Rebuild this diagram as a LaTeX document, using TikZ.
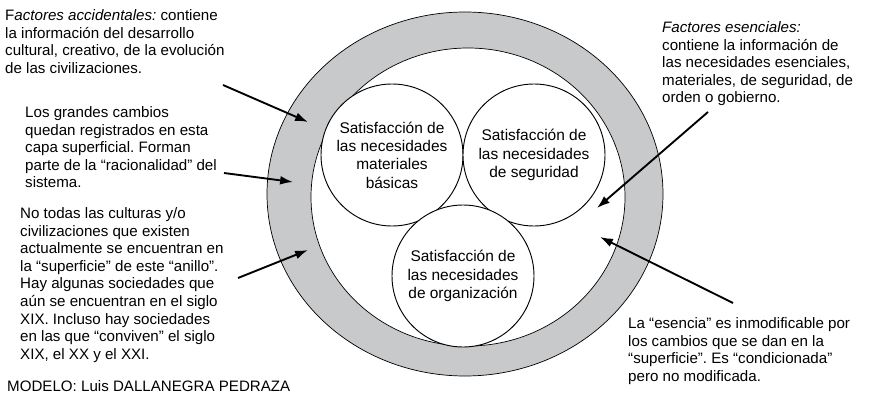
\documentclass[tikz,border=0pt]{standalone}
\usepackage{fontspec}
\setmainfont{Liberation Sans}
\usepackage{tikz}
\usetikzlibrary{arrows.meta}
\frenchspacing
\definecolor{ringgray}{HTML}{C8C9CB}
\tikzset{
  txt/.style={anchor=north west, inner sep=0pt, align=left, font=\fontsize{12.9}{15}\selectfont},
  need/.style={circle, draw=black, line width=0.8pt, fill=white, minimum size=4.26cm, inner sep=0pt, align=center, font=\fontsize{13.2}{15.6}\selectfont},
  ptr/.style={draw=black, line width=1.6pt, -{Latex[length=11pt,width=7.5pt]}},
  rim/.style={draw=black, line width=0.6pt},
}

\begin{document}
\begin{tikzpicture}[x=0.03cm,y=-0.03cm]
  \useasboundingbox (0,0) rectangle (870,394);
  % surface ring and essence
  \coordinate (C) at (465,194);
  \coordinate (E) at (468,197);
  \draw[rim, fill=ringgray] (C) ellipse [x radius=198, y radius=182];
  \draw[rim, fill=white] (E) ellipse [x radius=157, y radius=149];
  \node[need] (mat) at (392,155) {Satisfacción de\\las necesidades\\materiales\\básicas};
  \node[need] (seg) at (534,155) {Satisfacción de\\las necesidades\\de seguridad};
  \node[need] (org) at (463,276) {Satisfacción de\\las necesidades\\de organización};
  % notes
  \node[txt] (acc) at (5,9.5) {F\textit{actores accidentales:} contiene\\la información del desarrollo\\cultural, creativo, de la evolución\\de las civilizaciones.};
  \node[txt] (cam) at (25,106.5) {Los grandes cambios\\quedan registrados en esta\\capa superficial. Forman\\parte de la “racionalidad” del\\sistema.};
  \node[txt] (cul) at (20,207.5) {No todas las culturas y/o\\civilizaciones que existen\\actualmente se encuentran en\\la “superficie” de este “anillo”.\\Hay algunas sociedades que\\aún se encuentran en el siglo\\XIX. Incluso hay sociedades\\en las que “conviven” el siglo\\XIX, el XX y el XXI.};
  \node[txt] (mod) at (7,380.5) {MODELO: Luis DALLANEGRA PEDRAZA};
  \node[txt] (esen) at (662,21.5) {\textit{Factores esenciales:}\\contiene la información de\\las necesidades esenciales,\\materiales, de seguridad, de\\orden o gobierno.};
  \node[txt] (inm) at (628,317.5) {La “esencia” es inmodificable por\\los cambios que se dan en la\\“superficie”. Es “condicionada”\\pero no modificada.};
  % pointers
  \coordinate (a1) at (223,85);
  \coordinate (b1) at (308,122);
  \coordinate (a2) at (224,173);
  \coordinate (b2) at (293,182);
  \coordinate (a3) at (238,278);
  \coordinate (b3) at (308,250);
  \coordinate (a4) at (708,112);
  \coordinate (b4) at (597,208);
  \coordinate (a5) at (733,303);
  \coordinate (b5) at (600,237);
  \draw[ptr] (a1) -- (b1);
  \draw[ptr] (a2) -- (b2);
  \draw[ptr] (a3) -- (b3);
  \draw[ptr] (a4) -- (b4);
  \draw[ptr] (a5) -- (b5);
\end{tikzpicture}
\end{document}
